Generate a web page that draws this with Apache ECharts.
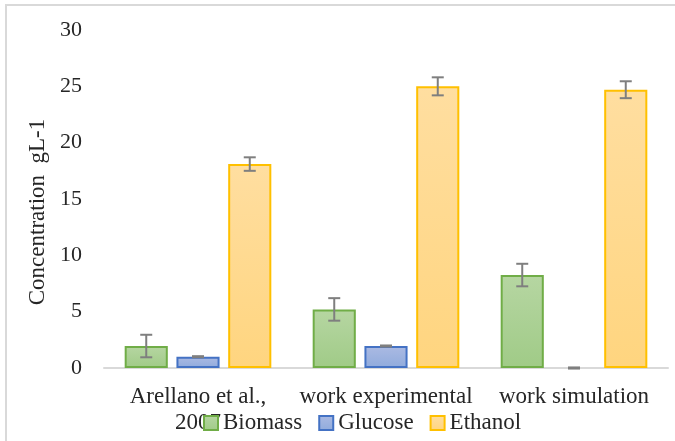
<!DOCTYPE html>
<html>
<head>
<meta charset="utf-8">
<script src="https://cdn.jsdelivr.net/npm/echarts@6/dist/echarts.min.js"></script>
<style>
html,body{margin:0;padding:0;background:#fff;}
#chart{width:675px;height:441px;}
</style>
</head>
<body>
<div id="chart"></div>
<script>
const categories = ['Arellano et al.,\n2007', 'work experimental', 'work simulation'];
const seriesNames = ['Biomass', 'Glucose', 'Ethanol'];
const biomass = [1.95, 5.2, 8.25];
const biomassErr = [1.0, 1.0, 1.0];
const glucose = [1.0, 1.95, 0];
const glucoseErr = [0.05, 0.05, 0.05];
const ethanol = [18.1, 25.0, 24.7];
const ethanolErr = [0.6, 0.8, 0.75];
const yTicks = [0, 5, 10, 15, 20, 25, 30];

const FONT = '"Liberation Serif", "Times New Roman", serif';
const TEXT = '#262626';
const CAT_GAP = 0.22, BAR_GAP = 0.2, N = 3;

function grad(top, bottom) {
  return new echarts.graphic.LinearGradient(0, 0, 0, 1, [
    {offset: 0, color: top}, {offset: 1, color: bottom}
  ]);
}
const styles = [
  {color: grad('#b6d6a2', '#a0cb87'), borderColor: '#70ad47'},
  {color: grad('#abbae3', '#90abdc'), borderColor: '#4472c4'},
  {color: grad('#ffdea0', '#ffd57f'), borderColor: '#ffc000'}
];
const values = [biomass, glucose, ethanol];
const errs = [biomassErr, glucoseErr, ethanolErr];

const series = [];
values.forEach((vals, i) => {
  series.push({
    name: seriesNames[i],
    type: 'bar',
    data: vals.map(v => v === 0 ? {value: v, itemStyle: {borderWidth: 0}} : v),
    barGap: (BAR_GAP * 100) + '%',
    barCategoryGap: (CAT_GAP * 100) + '%',
    itemStyle: {color: styles[i].color, borderColor: styles[i].borderColor, borderWidth: 2},
    emphasis: {disabled: true}
  });
});
values.forEach((vals, i) => {
  series.push({
    name: seriesNames[i] + ' error',
    type: 'custom',
    z: 5,
    silent: true,
    data: vals.map((v, k) => [k, v - errs[i][k], v + errs[i][k]]),
    encode: {x: 0, y: [1, 2]},
    renderItem: function (params, api) {
      const xv = api.value(0);
      const lo = api.coord([xv, api.value(1)]);
      const hi = api.coord([xv, api.value(2)]);
      const band = api.size([1, 0])[0];
      const usable = band * (1 - CAT_GAP);
      const bw = usable / (N + (N - 1) * BAR_GAP);
      const x = lo[0] - usable / 2 + bw / 2 + i * bw * (1 + BAR_GAP);
      const hw = 6;
      const st = {stroke: '#7f7f7f', lineWidth: 2};
      return {
        type: 'group',
        children: [
          {type: 'line', shape: {x1: x, y1: lo[1], x2: x, y2: hi[1]}, style: st},
          {type: 'line', shape: {x1: x - hw, y1: lo[1], x2: x + hw, y2: lo[1]}, style: st},
          {type: 'line', shape: {x1: x - hw, y1: hi[1], x2: x + hw, y2: hi[1]}, style: st}
        ]
      };
    }
  });
});

const chart = echarts.init(document.getElementById('chart'), null, {renderer: 'canvas'});
chart.setOption({
  animation: false,
  backgroundColor: '#fff',
  graphic: [{
    type: 'rect', silent: true, z: -10,
    shape: {x: 6, y: 5, width: 700, height: 470},
    style: {fill: 'none', stroke: '#d9d9d9', lineWidth: 2}
  }],
  grid: {left: 104, right: 7, top: 30, bottom: 73, containLabel: false},
  legend: {
    data: seriesNames,
    left: 203,
    top: 411,
    padding: 0,
    itemWidth: 14,
    itemHeight: 14,
    itemGap: 16,
    icon: 'rect',
    selectedMode: false,
    textStyle: {fontFamily: FONT, fontSize: 23, color: TEXT, lineHeight: 24}
  },
  xAxis: {
    type: 'category',
    data: categories,
    axisLine: {show: true, lineStyle: {color: '#d9d9d9', width: 2}},
    axisTick: {show: false},
    axisLabel: {fontFamily: FONT, fontSize: 23, color: TEXT, margin: 16, lineHeight: 26, interval: 0}
  },
  yAxis: {
    type: 'value',
    min: yTicks[0],
    max: yTicks[yTicks.length - 1],
    interval: yTicks[1] - yTicks[0],
    name: 'Concentration  gL-1',
    nameLocation: 'middle',
    nameGap: 49,
    nameTextStyle: {fontFamily: FONT, fontSize: 23, color: TEXT, padding: [0, 26, 0, 0]},
    axisLine: {show: false},
    axisTick: {show: false},
    splitLine: {show: false},
    axisLabel: {fontFamily: FONT, fontSize: 22, color: TEXT, margin: 22}
  },
  series: series
});
</script>
</body>
</html>
